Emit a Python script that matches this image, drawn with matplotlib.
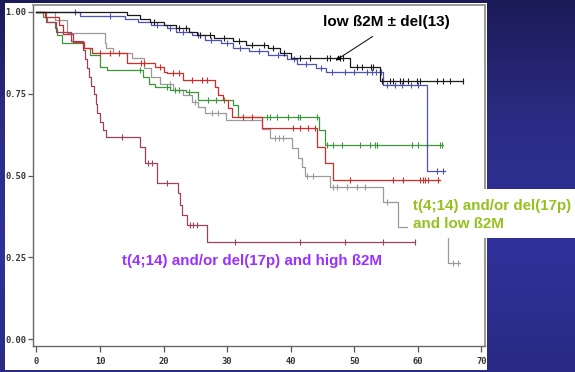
import numpy as np
import matplotlib
matplotlib.use("Agg")
import matplotlib.pyplot as plt
from matplotlib.patches import Rectangle
from matplotlib.colors import LinearSegmentedColormap

# Kaplan-Meier curves (time in months, survival)
black_t = [0, 14.3, 16.3, 17.9, 20.0, 22.0, 24.0, 25.2, 28.0, 31.0, 33.0, 36.5, 38.3, 40.0, 49.4, 54.1]
black_s = [1.0, 0.99, 0.98, 0.97, 0.96, 0.95, 0.94, 0.93, 0.92, 0.91, 0.90, 0.89, 0.875, 0.86, 0.832, 0.789]
black_end = 67.2
black_cens = [18.5, 22.5, 23.5, 25.8, 27.3, 29.5, 31.8, 34.0, 35.8, 37.2, 39.0, 41.5, 43.0, 45.7, 46.2,
              47.8, 48.3, 50.5, 51.3, 52.6, 53.0, 54.4, 55.7, 56.1, 57.2, 57.7, 58.5, 59.9, 60.4, 63.0, 64.0, 65.1, 67.2]

blue_t = [0, 6.8, 14.0, 16.0, 18.0, 20.5, 22.0, 24.5, 26.5, 29.0, 31.0, 33.5, 36.5, 39.5, 41.0, 44.0, 45.5, 54.6, 61.5]
blue_s = [1.0, 0.988, 0.98, 0.97, 0.96, 0.95, 0.94, 0.93, 0.915, 0.905, 0.89, 0.88, 0.87, 0.855, 0.84, 0.83, 0.817, 0.777, 0.514]
blue_end = 64.3
blue_cens = [6.0, 11.5, 19.0, 21.0, 23.0, 25.5, 27.5, 30.0, 32.0, 35.0, 38.0, 40.5, 42.5, 44.8, 46.5,
             48.5, 50.0, 52.0, 52.8, 53.5, 54.2, 55.2, 56.5, 57.5, 59.0, 60.0, 63.0, 64.0]

red_t = [0, 1.3, 3.5, 4.2, 5.8, 7.5, 8.7, 14.3, 18.7, 20.0, 20.5, 23.0, 28.1, 28.6, 29.4, 30.2, 30.8, 35.5, 44.2, 45.4, 46.7]
red_s = [1.0, 0.985, 0.96, 0.933, 0.908, 0.89, 0.875, 0.844, 0.832, 0.817, 0.813, 0.792, 0.77, 0.746, 0.73, 0.706, 0.68, 0.645, 0.587, 0.538, 0.486]
red_end = 63.5
red_cens = [10.0, 11.5, 13.0, 16.5, 17.0, 19.5, 21.5, 22.5, 24.5, 26.0, 26.8, 32.5, 34.0, 40.4, 41.5, 42.8,
            43.9, 49.4, 56.1, 57.7, 60.4, 60.8, 61.2, 61.7, 63.2]

green_t = [0, 1.0, 1.7, 2.9, 3.3, 4.0, 7.3, 8.4, 10.0, 11.1, 16.8, 17.7, 18.7, 21.0, 23.6, 25.4, 31.0, 31.7, 44.4, 45.4]
green_s = [1.0, 0.985, 0.97, 0.95, 0.93, 0.905, 0.89, 0.868, 0.832, 0.823, 0.80, 0.78, 0.77, 0.762, 0.755, 0.73, 0.716, 0.679, 0.64, 0.593]
green_end = 64.0
green_cens = [16.3, 20.5, 21.8, 22.5, 24.0, 27.0, 28.2, 29.5, 36.3, 36.8, 37.9, 39.6, 41.2, 41.5, 44.2,
              45.7, 46.7, 48.1, 50.9, 52.5, 53.3, 53.6, 59.1, 60.1, 61.5, 63.5, 63.9]

gray_t = [0, 2.9, 4.8, 10.8, 11.0, 12.0, 15.0, 17.0, 18.0, 19.5, 21.5, 23.0, 24.5, 25.5, 26.6, 29.9, 35.5, 36.8,
          40.2, 41.2, 41.8, 42.3, 46.2, 54.6, 56.9, 64.8]
gray_s = [1.0, 0.976, 0.935, 0.905, 0.89, 0.875, 0.86, 0.83, 0.80, 0.78, 0.76, 0.745, 0.725, 0.71, 0.69, 0.67, 0.642, 0.615,
          0.585, 0.553, 0.526, 0.50, 0.465, 0.419, 0.343, 0.232]
gray_end = 66.7
gray_cens = [21.0, 25.0, 27.6, 28.6, 37.6, 38.2, 38.8, 42.6, 43.5, 46.7, 47.3, 48.9, 50.5, 51.7, 55.2, 65.6, 66.4]

maroon_t = [0, 1.5, 3.0, 5.5, 7.3, 7.6, 7.9, 8.2, 8.6, 9.0, 9.3, 9.6, 10.0, 10.4, 10.9, 16.3, 17.1, 19.0, 22.3, 22.6, 22.9, 23.7, 26.8]
maroon_s = [1.0, 0.97, 0.94, 0.91, 0.885, 0.855, 0.83, 0.80, 0.775, 0.75, 0.72, 0.69, 0.665, 0.64, 0.618, 0.587, 0.538, 0.477,
            0.446, 0.41, 0.38, 0.349, 0.297]
maroon_end = 59.6
maroon_cens = [13.5, 17.6, 18.2, 20.5, 24.2, 24.7, 25.3, 31.3, 41.5, 48.6, 54.6, 59.6]

xticks = [0, 10, 20, 30, 40, 50, 60, 70]
yticks = [0.0, 0.25, 0.50, 0.75, 1.00]

W, H = 575, 372
fig = plt.figure(figsize=(W / 100, H / 100), dpi=100)

# slide background
bg = fig.add_axes([0, 0, 1, 1])
bg.set_axis_off()
cmap = LinearSegmentedColormap.from_list("slide", ["#1b1b58", "#2c2c86", "#30309a", "#2a2a84"])
grad = np.linspace(0, 1, 256).reshape(-1, 1)
bg.imshow(grad, aspect="auto", cmap=cmap, extent=[0, 1, 0, 1], origin="upper")
bg.add_patch(Rectangle((5 / W, 1 - 370 / H), 482 / W, 367 / H, transform=bg.transAxes,
                       facecolor="white", edgecolor="none"))
bg.set_xlim(0, 1)
bg.set_ylim(0, 1)

ax = fig.add_axes([33 / W, 1 - 346 / H, 452 / W, 341 / H])
ax.set_facecolor("white")

series = [
    (gray_t, gray_s, gray_end, gray_cens, "#9a9a9a"),
    (green_t, green_s, green_end, green_cens, "#3c963c"),
    (red_t, red_s, red_end, red_cens, "#d42a2a"),
    (maroon_t, maroon_s, maroon_end, maroon_cens, "#a0405a"),
    (blue_t, blue_s, blue_end, blue_cens, "#4f52b5"),
    (black_t, black_s, black_end, black_cens, "#1a1a1a"),
]
for t, s, end, cens, col in series:
    tt = np.append(t, end)
    ss = np.append(s, s[-1])
    ax.step(tt, ss, where="post", color=col, lw=0.9)
    idx = np.searchsorted(t, cens, side="right") - 1
    ax.plot(cens, np.array(s)[idx], ls="none", marker="|", ms=4.5, mew=0.8, color=col)

ax.set_xlim(-0.55, 70.6)
ax.set_ylim(-0.0214, 1.0214)
ax.set_xticks(xticks)
ax.set_yticks(yticks)
ax.set_xticklabels([str(x) for x in xticks])
ax.set_yticklabels(["%.2f" % y for y in yticks])
for lab in ax.get_xticklabels() + ax.get_yticklabels():
    lab.set_fontfamily("DejaVu Sans Mono")
    lab.set_fontweight("bold")
    lab.set_fontsize(6.3)
    lab.set_color("#333333")
ax.tick_params(axis="x", length=4, width=0.9, pad=4, colors="#555555", labelcolor="#333333")
ax.tick_params(axis="y", length=3.5, width=0.9, pad=1.5, colors="#555555", labelcolor="#333333")
for side in ["left", "bottom"]:
    ax.spines[side].set_color("#666666")
    ax.spines[side].set_linewidth(1.0)
for side in ["top", "right"]:
    ax.spines[side].set_color("#9a9a9a")
    ax.spines[side].set_linewidth(1.4)

# annotations
ax.annotate("", xy=(46.7, 0.847), xytext=(53.3, 0.930),
            arrowprops=dict(arrowstyle="-|>", color="black", lw=0.7, mutation_scale=7))
ax.text(45.1, 0.969, "low ß2M ± del(13)", fontfamily="Liberation Sans", fontweight="bold",
        fontsize=11, color="black", ha="left", va="center")
ax.text(13.5, 0.239, "t(4;14) and/or del(17p) and high ß2M", fontfamily="Liberation Sans",
        fontweight="bold", fontsize=10.9, color="#9b30ff", ha="left", va="center")

fig.patches.append(Rectangle((408 / W, 1 - 238 / H), 167 / W, 49 / H, transform=fig.transFigure,
                             facecolor="white", edgecolor="none", zorder=5))
fig.text(413 / W, 1 - 215 / H, "t(4;14) and/or del(17p)\nand low ß2M", fontfamily="Liberation Sans",
         fontweight="bold", fontsize=10.9, color="#95c11f", ha="left", va="center",
         linespacing=1.3, zorder=6)

fig.savefig("out.png", dpi=100)
